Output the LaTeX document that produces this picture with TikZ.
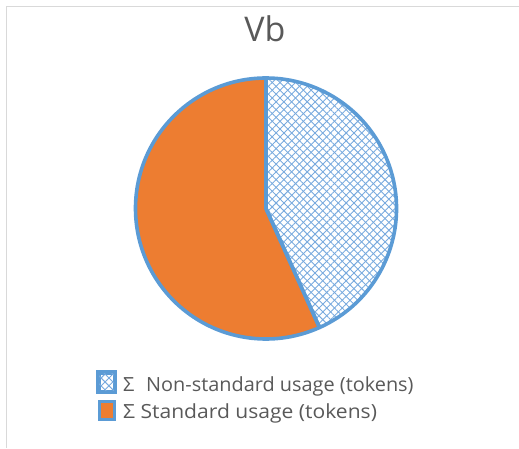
\documentclass[tikz,border=0pt]{standalone}
\usepackage{fontspec}
\setmainfont{Open Sans}
\newfontfamily\legendfont[FakeStretch=1.08]{Open Sans}
\newfontfamily\legendfontn[FakeStretch=1.02]{Open Sans}
\usetikzlibrary{patterns.meta}
\definecolor{sliceblue}{RGB}{91,155,213}
\definecolor{hatchblue}{RGB}{120,170,222}
\definecolor{sliceorange}{RGB}{237,125,49}
\definecolor{textgray}{RGB}{89,89,89}
\definecolor{framegray}{RGB}{217,217,217}
\tikzset{
  hatched/.style={pattern={Lines[angle=45,distance=5.5pt,line width=0.9pt]},pattern color=hatchblue},
  hatchedb/.style={pattern={Lines[angle=-45,distance=5.5pt,line width=0.9pt]},pattern color=hatchblue},
  rim/.style={draw=sliceblue,line width=3.6pt,line join=round},
  keybox/.style={draw=sliceblue,line width=3pt,minimum width=15pt,minimum height=18pt,inner sep=0pt},
  keytext/.style={text=textgray,font=\fontsize{19.5}{21}\selectfont,anchor=base west,inner sep=0pt},
}
\begin{document}
\begin{tikzpicture}[x=1pt,y=1pt]
  \useasboundingbox (0,0) rectangle (519,448);
  % chart frame
  \draw[framegray,line width=1.2pt] (519,441.5) -- (6.5,441.5) -- (6.5,0);
  % title
  \node[text=textgray,font=\fontsize{34}{36}\selectfont,anchor=base,inner sep=0pt] (title) at (265,406) {Vb};
  % pie
  \coordinate (c) at (266,239.5);
  \def\r{130.5}
  \fill[sliceorange] (c) -- ++(90:\r) arc[start angle=90,end angle=294.2,radius=\r] -- cycle;
  \path[hatched] (c) -- ++(-65.8:\r) arc[start angle=-65.8,end angle=90,radius=\r] -- cycle;
  \path[hatchedb] (c) -- ++(-65.8:\r) arc[start angle=-65.8,end angle=90,radius=\r] -- cycle;
  \draw[rim] (c) -- ++(90:\r) arc[start angle=90,end angle=294.2,radius=\r] -- cycle;
  \draw[rim] (c) -- ++(-65.8:\r) arc[start angle=-65.8,end angle=90,radius=\r] -- cycle;
  % legend
  \node[keybox,hatched] (k1) at (106.5,66) {};
  \path[hatchedb] (k1.south west) rectangle (k1.north east);
  \draw[sliceblue,line width=3pt] (k1.south west) rectangle (k1.north east);
  \node[keybox,fill=sliceorange] (k2) at (106.5,38) {};
  \node[keytext] (t1) at (123,56.5) {\legendfontn Σ\hspace{0.6em}Non-standard usage (tokens)};
  \node[keytext] (t2) at (123,29.5) {\legendfont Σ Standard usage (tokens)};
\end{tikzpicture}
\end{document}
